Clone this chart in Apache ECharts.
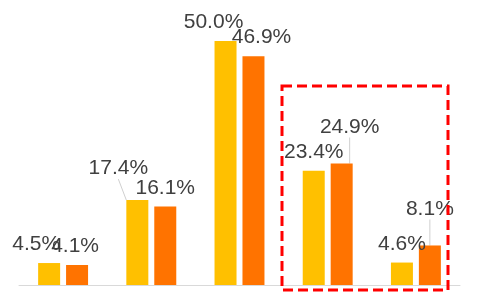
<!DOCTYPE html>
<html>
<head>
<meta charset="utf-8">
<script src="https://cdn.jsdelivr.net/npm/echarts@6/dist/echarts.min.js"></script>
<style>html,body{margin:0;padding:0;background:#fff;}#c{width:480px;height:300px;}</style>
</head>
<body>
<div id="c"></div>
<script>
const categories = ['A', 'B', 'C', 'D', 'E'];
const seriesA = [4.5, 17.4, 50.0, 23.4, 4.6];
const seriesB = [4.1, 16.1, 46.9, 24.9, 8.1];

// label nudges (styling only)
const labelShift = [
  [[-13, 0], [-19, -13], [-12, 0], [0, 0], [0, 0]],
  [[-2, 0], [0, 0], [8, 0], [8, -18], [0, -18]]
];
const showLine = [
  [false, true, false, false, false],
  [false, false, false, true, true]
];

const chart = echarts.init(document.getElementById('c'));
function mk(vals, si, color) {
  return {
    type: 'bar',
    barWidth: 22,
    barGap: '27%',
    data: vals.map((v, i) => ({value: v, labelLine: {show: showLine[si][i]}})),
    itemStyle: {color: color},
    label: {
      show: true, position: 'top', distance: 8,
      formatter: p => p.value.toFixed(1) + '%',
      fontSize: 21, color: '#404040', fontFamily: 'Liberation Sans, Arial'
    },
    labelLine: {show: false, lineStyle: {color: '#cfcfcf', width: 1}},
    labelLayout: p => {
      const s = labelShift[si][p.dataIndex];
      const out = {dx: s[0], dy: s[1]};
      if (showLine[si][p.dataIndex]) {
        const lr = p.labelRect, r = p.rect;
        const lx = lr.x + lr.width / 2 + s[0];
        const ly = lr.y + lr.height + s[1] + 5;
        const bx = r.x + r.width / 2;
        const by = Math.min(r.y, r.y + r.height);
        out.labelLinePoints = [[lx, ly], [(lx + bx) / 2, (ly + by) / 2], [bx, by]];
      }
      return out;
    }
  };
}
chart.setOption({
  animation: false,
  grid: {left: 19, right: 20, top: 41, bottom: 15},
  xAxis: {type: 'category', data: categories,
    axisLine: {show: true, lineStyle: {color: '#d9d9d9'}},
    axisTick: {show: false}, axisLabel: {show: false}},
  yAxis: {type: 'value', min: 0, max: 50, show: false, splitLine: {show: false}},
  series: [mk(seriesA, 0, '#FFC000'), mk(seriesB, 1, '#FF7300')],
  graphic: [{
    type: 'rect', shape: {x: 282, y: 86, width: 166, height: 204},
    style: {fill: 'none', stroke: '#FF0000', lineWidth: 3, lineDash: [10, 5]}, z: 100
  }]
});
</script>
</body>
</html>
